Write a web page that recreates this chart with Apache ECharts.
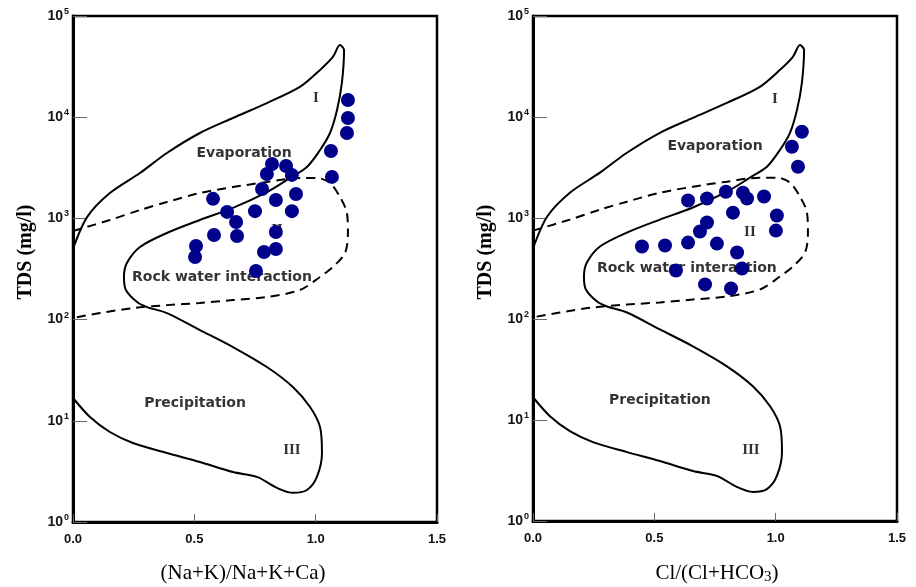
<!DOCTYPE html>
<html>
<head>
<meta charset="utf-8">
<script src="https://cdn.jsdelivr.net/npm/echarts@6/dist/echarts.min.js"></script>
<style>
  html, body { margin: 0; padding: 0; background: #fff; }
  #chart { width: 916px; height: 587px; }
</style>
</head>
<body>
<div id="chart"></div>
<script>
// Gibbs boundary outline, [ratio, TDS mg/l]
const solidBoundary = [
  [0, 500], [0.058, 1030], [0.152, 1780], [0.276, 2810], [0.387, 4430], [0.523, 6980],
  [0.659, 9820], [0.799, 13800], [0.935, 19900], [1.018, 29300], [1.071, 39400], [1.100, 51700],
  [1.117, 46100], [1.108, 21800], [1.088, 11800], [1.059, 6980], [1.018, 4740], [0.964, 3220],
  [0.894, 2510], [0.799, 1820], [0.659, 1270], [0.523, 964], [0.387, 717], [0.276, 522],
  [0.222, 362], [0.210, 264], [0.218, 196], [0.264, 149], [0.305, 133], [0.387, 116],
  [0.523, 78.9], [0.659, 53.6], [0.799, 34.0], [0.906, 21.6], [0.977, 13.7], [1.018, 8.68],
  [1.026, 4.81], [1.005, 2.79], [0.964, 2.07], [0.906, 1.94], [0.841, 2.17], [0.758, 2.79],
  [0.659, 3.12], [0.523, 3.92], [0.387, 4.81], [0.247, 6.04], [0.152, 7.75], [0.070, 10.9],
  [0, 16.8]
];

// rock-water interaction envelope (dashed)
const dashedBoundary = [
  [0, 750], [0.152, 964], [0.276, 1210], [0.387, 1450], [0.523, 1780], [0.659, 2040],
  [0.799, 2290], [0.935, 2510], [1.005, 2510], [1.059, 2240], [1.100, 1630], [1.129, 1130],
  [1.133, 717], [1.121, 455], [1.071, 331], [1.018, 264], [0.935, 196], [0.799, 167],
  [0.659, 156], [0.523, 146], [0.387, 139], [0.247, 130], [0.111, 116], [0, 104]
];

// samples: (Na+K)/(Na+K+Ca) vs TDS
const cationSamples = [
  [1.133, 14800], [1.133, 9820], [1.129, 6980], [1.063, 4630], [1.067, 2570],
  [0.820, 3450], [0.799, 2750], [0.878, 3300], [0.902, 2690], [0.779, 1950],
  [0.919, 1740], [0.836, 1520], [0.902, 1180], [0.577, 1560], [0.635, 1160],
  [0.672, 921], [0.750, 1180], [0.581, 685], [0.676, 670], [0.836, 734],
  [0.507, 534], [0.503, 415], [0.787, 466], [0.836, 499], [0.754, 302]
];

// samples: Cl/(Cl+HCO3) vs TDS
const anionSamples = [
  [1.108, 7140], [1.067, 5080], [1.092, 3220], [0.795, 1820], [0.865, 1780],
  [0.882, 1560], [0.952, 1630], [0.639, 1490], [0.717, 1560], [0.824, 1130],
  [1.005, 1060], [1.001, 750], [0.717, 901], [0.688, 734], [0.639, 571],
  [0.449, 522], [0.544, 534], [0.758, 558], [0.841, 455], [0.589, 302],
  [0.861, 316], [0.709, 220], [0.816, 201]
];

const leftRegions = [[0.705, 4430, 'Evaporation'], [0.614, 264, 'Rock water interaction'], [0.503, 15.0, 'Precipitation']];
const leftNumerals = [[1.001, 15500, 'I'], [0.841, 768, 'II'], [0.902, 5.15, 'III']];
const rightRegions = [[0.750, 5080, 'Evaporation'], [0.634, 316, 'Rock water interaction'], [0.523, 15.7, 'Precipitation']];
const rightNumerals = [[0.997, 15100, 'I'], [0.894, 717, 'II'], [0.898, 5.0, 'III']];

const xTicks = [0, 0.5, 1.0, 1.5];

const chart = echarts.init(document.getElementById('chart'));

function xAxisFor(i) {
  return {
    gridIndex: i, type: 'value', min: 0, max: 1.5, interval: 0.5,
    axisLine: {show: true, lineStyle: {color: '#000', width: 3}},
    axisTick: {show: true, inside: true, length: 8, lineStyle: {color: '#666', width: 1}},
    axisLabel: {
      margin: 11, color: '#111', fontFamily: 'Liberation Sans, Arial', fontWeight: 'bold', fontSize: 13,
      formatter: v => xTicks.indexOf(v) >= 0 ? v.toFixed(1) : ''
    },
    splitLine: {show: false}
  };
}

function yAxisFor(i) {
  return {
    gridIndex: i, type: 'log', logBase: 10, min: 1, max: 100000,
    axisLine: {show: true, lineStyle: {color: '#000', width: 3}},
    axisTick: {show: true, inside: true, length: 14, lineStyle: {color: '#666', width: 1}},
    minorTick: {show: false},
    axisLabel: {
      margin: 4, color: '#111',
      formatter: v => '{b|10}{s|' + Math.round(Math.log10(v)) + '}',
      rich: {
        b: {fontFamily: 'Liberation Sans, Arial', fontWeight: 'bold', fontSize: 14, color: '#111'},
        s: {fontFamily: 'Liberation Sans, Arial', fontWeight: 'bold', fontSize: 9, color: '#111', padding: [0, 0, 9, 1]}
      }
    },
    splitLine: {show: false}
  };
}

function panelSeries(i, samples, regions, numerals) {
  return [
    {
      type: 'line', xAxisIndex: i, yAxisIndex: i, data: solidBoundary, smooth: 0.3,
      symbol: 'none', silent: true, lineStyle: {color: '#000', width: 2}, z: 2
    },
    {
      type: 'line', xAxisIndex: i, yAxisIndex: i, data: dashedBoundary, smooth: 0.3,
      symbol: 'none', silent: true, lineStyle: {color: '#000', width: 2, type: [9, 6]}, z: 2
    },
    {
      type: 'scatter', xAxisIndex: i, yAxisIndex: i, data: regions, symbolSize: 0, silent: true, z: 3,
      label: {
        show: true, position: 'inside', formatter: p => p.data[2], color: '#000',
        textBorderWidth: 0, fontFamily: 'DejaVu Sans, Verdana', fontWeight: 'bold', fontSize: 14
      }
    },
    {
      type: 'scatter', xAxisIndex: i, yAxisIndex: i, data: numerals, symbolSize: 0, silent: true, z: 3,
      label: {
        show: true, position: 'inside', formatter: p => p.data[2], color: '#000',
        textBorderWidth: 0, fontFamily: 'Liberation Serif, Times New Roman', fontWeight: 'bold', fontSize: 15
      }
    },
    {
      type: 'scatter', xAxisIndex: i, yAxisIndex: i, data: samples, symbol: 'circle', symbolSize: 14,
      silent: true, itemStyle: {color: '#00008a', opacity: 1}, z: 4
    }
  ];
}

const option = {
  backgroundColor: '#fff',
  animation: false,
  grid: [
    {left: 73, top: 16, width: 364, height: 506, show: true, borderColor: '#000', borderWidth: 2.5, outerBoundsMode: 'none'},
    {left: 533, top: 16, width: 364, height: 505, show: true, borderColor: '#000', borderWidth: 2.5, outerBoundsMode: 'none'}
  ],
  xAxis: [xAxisFor(0), xAxisFor(1)],
  yAxis: [yAxisFor(0), yAxisFor(1)],
  series: [].concat(
    panelSeries(0, cationSamples, leftRegions, leftNumerals),
    panelSeries(1, anionSamples, rightRegions, rightNumerals)
  ),
  graphic: [
    {type: 'text', x: 26, y: 252, rotation: Math.PI / 2, style: {
      text: 'TDS (mg/l)', font: 'bold 20px "Liberation Serif", serif', fill: '#000',
      align: 'center', verticalAlign: 'middle'}},
    {type: 'text', x: 486, y: 252, rotation: Math.PI / 2, style: {
      text: 'TDS (mg/l)', font: 'bold 20px "Liberation Serif", serif', fill: '#000',
      align: 'center', verticalAlign: 'middle'}},
    {type: 'text', x: 243, y: 573, style: {
      text: '(Na+K)/Na+K+Ca)', font: '21px "Liberation Serif", serif', fill: '#000',
      align: 'center', verticalAlign: 'middle'}},
    {type: 'text', x: 717, y: 573, style: {
      text: '{n|Cl/(Cl+HCO}{sub|3}{n|)}', align: 'center', verticalAlign: 'middle',
      rich: {
        n: {font: '21px "Liberation Serif", serif', fill: '#000'},
        sub: {font: '15px "Liberation Serif", serif', fill: '#000', padding: [8, 0, 0, 0]}
      }}}
  ]
};

chart.setOption(option);
</script>
</body>
</html>
